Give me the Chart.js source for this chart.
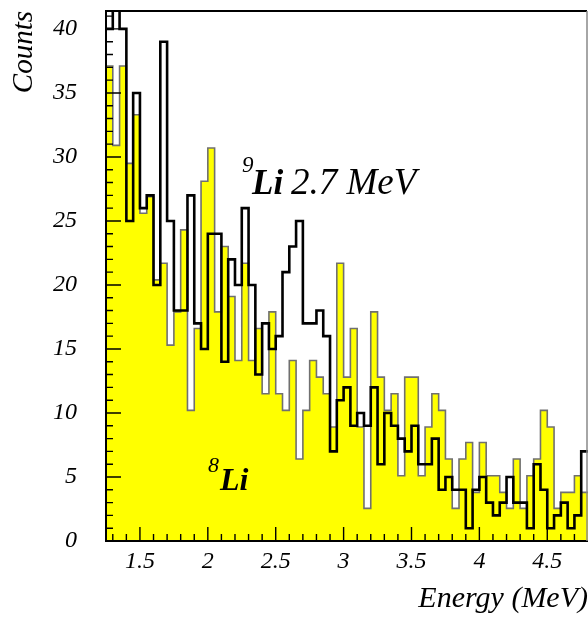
<!DOCTYPE html>
<html><head><meta charset="utf-8">
<script src="https://cdn.jsdelivr.net/npm/chart.js@4/dist/chart.umd.min.js"></script>
<style>html,body{margin:0;padding:0;background:#fff}#wrap{position:relative;width:588px;height:617px}</style>
</head><body><div id="wrap"><canvas id="c" width="588" height="617"></canvas></div>
<script>
// Bin lower edges (MeV), bin width 0.05
const binLowEdges = [1.25,1.30,1.35,1.40,1.45,1.50,1.55,1.60,1.65,1.70,1.75,1.80,1.85,1.90,1.95,2.00,2.05,2.10,2.15,2.20,2.25,2.30,2.35,2.40,2.45,2.50,2.55,2.60,2.65,2.70,2.75,2.80,2.85,2.90,2.95,3.00,3.05,3.10,3.15,3.20,3.25,3.30,3.35,3.40,3.45,3.50,3.55,3.60,3.65,3.70,3.75,3.80,3.85,3.90,3.95,4.00,4.05,4.10,4.15,4.20,4.25,4.30,4.35,4.40,4.45,4.50,4.55,4.60,4.65,4.70,4.75];
const binUpperEnd = 4.80;
// 8Li (yellow filled histogram)
const li8Counts = [37.1,30.9,37.1,29.5,33.3,25.6,26.9,20.4,21.7,15.3,
 17.9,24.3,10.2,16.6,28.1,30.7,17.9,23.0,19.1,14.1,
 21.7,14.1,16.6,11.5,17.9,11.5,10.2,14.1,6.4,10.2,
 14.1,12.8,11.5,8.9,21.7,12.8,16.6,8.9,2.55,17.9,
 12.8,10.2,11.5,5.1,12.8,12.8,5.1,8.9,11.5,10.2,
 6.4,2.55,6.4,7.7,3.8,7.7,5.1,5.1,3.8,2.55,
 6.4,2.55,5.1,6.4,10.2,8.9,2.55,3.8,3.8,5.1,
 3.8];
// 9Li 2.7 MeV (black outline histogram)
const li9Counts = [40,43,40,25,35,26,27,20,39,25,
 18,18,27,17,15,24,24,14,22,20,
 26,20,13,17,15,16,21,23,25,17,
 17,18,16,7,11,12,9,10,9,12,
 6,10,9,8,7,9,6,6,8,4,
 5,4,4,1,4,5,3,2,3,5,
 3,3,1,6,4,1,2,3,1,2,
 7];
const xTickValues = [1.5,2,2.5,3,3.5,4,4.5];
const xTickLabels = ['1.5','2','2.5','3','3.5','4','4.5'];
const yTickValues = [0,5,10,15,20,25,30,35,40];
const yTickLabels = ['0','5','10','15','20','25','30','35','40'];

function stepPoints(vals){
  const pts = binLowEdges.map((e,i)=>({x:e,y:vals[i]}));
  pts.push({x:binUpperEnd,y:vals[vals.length-1]});
  return pts;
}
const SERIF = "'Liberation Serif','Times New Roman',serif";

const framePlugin = {
  id:'frame',
  afterDatasetsDraw(chart){
    const ctx = chart.ctx, ca = chart.chartArea, xs = chart.scales.x, ys = chart.scales.y;
    ctx.save();
    ctx.strokeStyle = '#000';
    ctx.lineWidth = 1.4;
    ctx.beginPath();
    for (let v = 0; v <= 41; v++) {
      const y = ys.getPixelForValue(v);
      const len = v % 5 === 0 ? 15 : 7;
      ctx.moveTo(ca.left, y); ctx.lineTo(ca.left + len, y);
    }
    for (let k = 13; k <= 47; k++) {
      const x = xs.getPixelForValue(k / 10);
      const len = k % 5 === 0 ? 14 : 7;
      ctx.moveTo(x, ca.bottom); ctx.lineTo(x, ca.bottom - len);
    }
    ctx.stroke();
    ctx.lineWidth = 2;
    ctx.beginPath();
    ctx.moveTo(ca.right - 1, ca.top); ctx.lineTo(ca.left, ca.top); ctx.lineTo(ca.left, ca.bottom); ctx.lineTo(ca.right, ca.bottom);
    ctx.stroke();
    ctx.strokeStyle = '#888';
    ctx.lineWidth = 1.5;
    ctx.beginPath(); ctx.moveTo(ca.right - 1, ca.top); ctx.lineTo(ca.right - 1, ca.bottom); ctx.stroke();
    ctx.restore();
  },
  afterDraw(chart){
    const ctx = chart.ctx;
    ctx.save();
    ctx.fillStyle = '#000';
    ctx.textBaseline = 'alphabetic';
    ctx.textAlign = 'left';
    ctx.font = "italic 23px " + SERIF;
    ctx.fillText('9', 242, 172);
    ctx.font = "italic bold 35px " + SERIF;
    ctx.fillText('Li', 252, 194);
    ctx.font = "italic 37px " + SERIF;
    ctx.fillText('2.7 MeV', 291, 194);
    ctx.font = "italic 22px " + SERIF;
    ctx.fillText('8', 208, 472);
    ctx.font = "italic bold 32px " + SERIF;
    ctx.fillText('Li', 220, 490);
    ctx.restore();
  }
};

new Chart(document.getElementById('c'), {
  type:'line',
  data:{datasets:[
    {label:'9Li 2.7 MeV', data: stepPoints(li9Counts), stepped:'before', borderColor:'#000', borderWidth:2.6, pointRadius:0, fill:false},
    {label:'8Li', data: stepPoints(li8Counts), stepped:'before', borderColor:'#707070', borderWidth:1.6, backgroundColor:'#ffff00', pointRadius:0, fill:'origin'}
  ]},
  options:{
    responsive:false, animation:false, devicePixelRatio:1,
    layout:{padding:{left:0,right:0,top:11,bottom:0}},
    plugins:{legend:{display:false}, tooltip:{enabled:false}},
    scales:{
      x:{type:'linear', min:1.25, max:4.8,
        border:{display:false}, grid:{display:false, drawTicks:false},
        afterBuildTicks:s=>{s.ticks = xTickValues.map(v=>({value:v}));},
        afterFit:s=>{s.height = 76; s.paddingLeft = 0; s.paddingRight = 0;},
        ticks:{callback:(v,i)=>xTickLabels[i], font:{family:SERIF, style:'italic', size:24}, color:'#000', padding:6, maxRotation:0, autoSkip:false},
        title:{display:true, text:'Energy (MeV)', align:'end', font:{family:SERIF, style:'italic', size:30}, color:'#000', padding:{top:0,bottom:0}}
      },
      y:{type:'linear', min:0, max:41.4,
        border:{display:false}, grid:{display:false, drawTicks:false},
        afterBuildTicks:s=>{s.ticks = yTickValues.map(v=>({value:v}));},
        afterFit:s=>{s.width = 106; s.paddingTop = 0; s.paddingBottom = 0;},
        ticks:{callback:(v,i)=>yTickLabels[i], font:{family:SERIF, style:'italic', size:24}, color:'#000', padding:29, autoSkip:false},
        title:{display:true, text:'Counts', align:'end', font:{family:SERIF, style:'italic', size:29}, color:'#000', padding:{top:7,bottom:0}}
      }
    }
  },
  plugins:[framePlugin]
});
</script></body></html>
